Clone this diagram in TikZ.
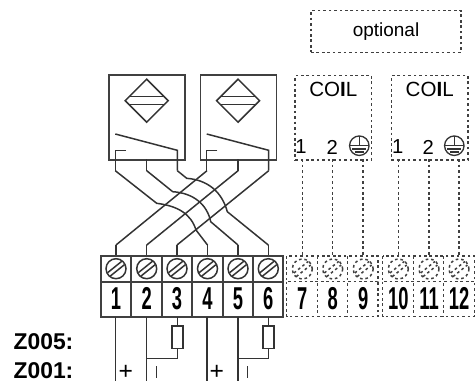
\documentclass[tikz,border=0pt]{standalone}
\usepackage{fontspec}
\setmainfont{Liberation Sans}
\usetikzlibrary{calc}
\tikzset{
  wire/.style={line width=0.85pt,draw=black!80},
  thick box/.style={line width=1pt,draw=black!75},
  dots/.style={line width=0.85pt,draw=black!75,dash pattern=on 1.5pt off 1.6pt},
  termnum/.style={inner sep=0pt,font=\bfseries\fontsize{18}{18}\selectfont,xscale=0.58},
  coilnum/.style={inner sep=0pt,font=\fontsize{11.5}{11.5}\selectfont},
  zlabel/.style={inner sep=0pt,anchor=west,font=\bfseries\fontsize{13}{13}\selectfont},
}
\begin{document}
\begin{tikzpicture}[x=0.02cm,y=-0.02cm]
  \useasboundingbox (0,0) rectangle (475,381);
  % relays
  \foreach \n/\x in {1/108.3,2/199.7} {
    \node[thick box,draw,inner sep=0pt,minimum width=76*0.02cm,minimum height=85*0.02cm,anchor=north west] (relay\n) at (\x,74.3) {};
    \coordinate (rc\n) at ($(\x,0)+(38.4,100.7)$);
    \draw[wire] ($(rc\n)+(-21.5,0)$) -- ($(rc\n)+(0,-21.5)$) -- ($(rc\n)+(21.5,0)$) -- ($(rc\n)+(0,21.5)$) -- cycle;
    \draw[wire] ($(rc\n)+(-17.5,-4)$) -- ($(rc\n)+(17.5,-4)$);
    \draw[wire] ($(rc\n)+(-17.5,4)$) -- ($(rc\n)+(17.5,4)$);
    \draw[wire] ($(\x,134)+(7,0)$) -- ($(\x,150.3)+(69,0)$) -- ($(\x,170.7)+(69,0)$);
    \draw[wire] ($(\x,150.3)+(17.7,0)$) -- ($(\x,150.3)+(7,0)$) -- ($(\x,170.7)+(7,0)$);
    \draw[wire] ($(\x,159.3)+(38.4,0)$) -- ($(\x,170.7)+(38.4,0)$);
  }
  \coordinate (pin1) at (115.3,170.7);
  \coordinate (pin2) at (146.7,170.7);
  \coordinate (pin3) at (177.3,170.7);
  \coordinate (pin4) at (207,170.7);
  \coordinate (pin5) at (238.1,170.7);
  \coordinate (pin6) at (268.7,170.7);
  % terminals
  \foreach \n/\x in {1/116,2/146.7,3/177,4/207.5,5/238,6/268.3} {
    \coordinate (top\n) at (\x,245);
    \draw[wire] (top\n) -- (\x,255.7);
    \node[circle,draw=black!80,line width=0.85pt,inner sep=0pt,minimum size=20*0.02cm] (screw\n) at (\x,268.7) {};
    \draw[wire] ($(screw\n)+(-8.4,4)$) -- ($(screw\n)+(6,-7.6)$);
    \draw[wire] ($(screw\n)+(-6,7.6)$) -- ($(screw\n)+(8.4,-4)$);
    \node[termnum] (num\n) at (\x,298.3) {\n};
  }
  \draw[thick box] (100.7,255.7) rectangle (283.3,316.7);
  \draw[thick box] (100.7,281.7) -- (283.3,281.7);
  \foreach \x in {131.3,161.7,192.3,222.7,253} \draw[thick box] (\x,255.7) -- (\x,316.7);
  % crossing wires
  \draw[wire] (pin4) -- (top1);
  \draw[wire] (pin5) -- (top2);
  \draw[wire] (pin6) -- (top3);
  \draw[wire] (pin1) -- (156.7,203.3) .. controls (178,206) and (191,214) .. (196,230) -- (top4);
  \draw[wire] (pin2) -- (172.7,191.7) .. controls (193,193) and (207,204) .. (210.7,221.7) -- (top5);
  \draw[wire] (pin3) -- (186.7,178.3) .. controls (208,180) and (222,192) .. (227.3,211.7) -- (top6);
  % wires below
  \node[inner sep=0pt] (plus1) at (125.7,372.3) {\fontsize{14}{14}\selectfont +};
  \node[inner sep=0pt] (plus2) at (216.7,372.3) {\fontsize{14}{14}\selectfont +};
  \draw[wire] (156.7,366) -- (156.7,378);
  \draw[wire] (247.7,366) -- (247.7,378);
  \foreach \x in {115.5,146.7,207,238} \draw[wire] (\x,316.7) -- (\x,381);
  \foreach \n/\x/\y in {1/177.3/146.7,2/268.3/238} {
    \node[draw=black!80,line width=0.85pt,inner sep=0pt,minimum width=11*0.02cm,minimum height=22.7*0.02cm] (res\n) at (\x,337.3) {};
    \draw[wire] (\x,316.7) -- (res\n);
    \draw[wire] (res\n) -- (\x,358.3) -- (\y,358.3);
  }
  % optional part
  \node[dots,draw,inner sep=0pt,minimum width=150*0.02cm,minimum height=41.6*0.02cm,font=\fontsize{10.8}{10.8}\selectfont] (opt) at (386,31.5) {optional};
  \foreach \n/\x/\a/\b/\c in {1/294.3/301/332.3/359.3,2/390.7/397.7/428.3/454.3} {
    \node[dots,draw,inner sep=0pt,minimum width=76.5*0.02cm,minimum height=84.3*0.02cm,anchor=north west] (coil\n) at (\x,75) {};
    \node[inner sep=0pt,font=\fontsize{11.7}{11.7}\selectfont] (coiltxt\n) at (\x+39,89) {CO{\bfseries I}L};
    \node[coilnum] (one\n) at (\a,147) {1};
    \node[coilnum] (two\n) at (\b,147) {2};
    \node[circle,draw=black!80,line width=0.75pt,inner sep=0pt,minimum size=19.5*0.02cm] (earth\n) at (\c,145.7) {};
    \draw[wire] ($(earth\n)+(-9.5,0)$) -- ($(earth\n)+(9.5,0)$);
    \draw[wire] ($(earth\n)+(0,-9.5)$) -- (earth\n.center);
    \draw[wire] ($(earth\n)+(-7,3.2)$) -- ($(earth\n)+(7,3.2)$);
    \draw[wire] ($(earth\n)+(-4.5,6.2)$) -- ($(earth\n)+(4.5,6.2)$);
  }
  \foreach \n/\x in {7/302.3,8/332.7,9/363.2,10/398.3,11/429,12/459} {
    \draw[dots] (\x,159.3) -- (\x,256);
    \node[circle,dots,draw,inner sep=0pt,minimum size=20*0.02cm] (screw\n) at (\x,269) {};
    \draw[dots] ($(screw\n)+(-8.4,4)$) -- ($(screw\n)+(6,-7.6)$);
    \draw[dots] ($(screw\n)+(-6,7.6)$) -- ($(screw\n)+(8.4,-4)$);
    \node[termnum] (num\n) at (\x,298.3) {\n};
  }
  \draw[dots] (286.7,256) rectangle (378,281.7);
  \draw[dots] (382.7,256) rectangle (474.3,281.7);
  \draw[dots] (286.7,281.7) -- (286.7,316.7) -- (378,316.7) -- (378,281.7);
  \draw[dots] (382.7,281.7) -- (382.7,316.7) -- (474.3,316.7) -- (474.3,281.7);
  \foreach \x in {317.3,347.7,413.3,443.7} \draw[dots] (\x,256) -- (\x,316.7);
  % labels
  \node[zlabel] (z5) at (13.3,341.5) {Z005:};
  \node[zlabel] (z1) at (13.3,371) {Z001:};
\end{tikzpicture}
\end{document}
